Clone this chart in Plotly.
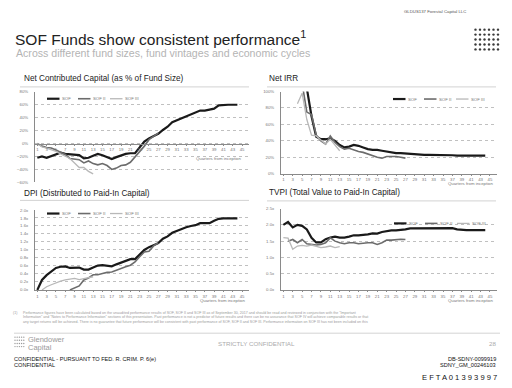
import plotly.graph_objects as go

W, H = 512, 388
FONT = "Arial, Liberation Sans, Helvetica, sans-serif"

# ---------------- data ----------------
quarters = list(range(1, 45))
x_tickvals = list(range(1, 46, 2))
series_names = ["SOF", "SOF II", "SOF III"]

# Net Contributed Capital (% of fund size)
ncc_sof = [-22, -20, -22, -19, -16, -14, -16, -17, -18, -18, -23, -22, -19, -16, -18,
           -21, -24, -21, -18, -16, -15, -15, -6, 3, 8, 11, 15, 21, 26, 33, 36, 40, 43,
           45, 48, 51, 51, 52, 54, 59, 60, 60, 60, 60]
ncc_sof2 = [0, -4, -6, -7, -10, -13, -17, -23, -24, -25, -30, -27, -31, -33, -31, -34,
            -40, -38, -34, -33, -29, -21, -12, -4, 6, 11, 16]
ncc_sof3 = [0, -5, -7, -9, -12, -16, -20, -23, -30, -37, -37, -43, -47]

# Net IRR (%)
irr_sof = [None, None, None, None, None, 104, 70, 45, 42, 42, 43, 40, 35, 32, 33, 35,
           34, 32, 30, 29, 29, 28, 27, 26, 25, 25, 24.5, 24, 24, 23.5, 23, 23, 23, 23,
           23, 23, 22.5, 22, 22, 22, 22, 22, 22, 22]
irr_sof2 = [None, None, None, None, 110, 75, 72, 47, 40, 36, 46, 38, 33, 30, 31, 29,
            27, 26, 24, 22, 20, 19, 21, 21, 21, 20, 19]
irr_sof3 = [None, None, None, 85, 98, 66, 47, 46, 41, 36, 42, 35, 28]

# DPI (x)
dpi_sof = [0.0, 0.25, 0.37, 0.45, 0.55, 0.58, 0.59, 0.55, 0.55, 0.56, 0.51, 0.51, 0.56,
           0.61, 0.62, 0.60, 0.59, 0.64, 0.68, 0.73, 0.77, 0.77, 0.88, 1.00, 1.07, 1.12,
           1.17, 1.28, 1.34, 1.43, 1.48, 1.53, 1.57, 1.60, 1.62, 1.67, 1.67, 1.67, 1.73,
           1.78, 1.79, 1.79, 1.79, 1.79]
dpi_sof2 = [None, None, None, None, None, None, None, 0.0, 0.05, 0.10, 0.25, 0.30, 0.38,
            0.38, 0.41, 0.44, 0.45, 0.50, 0.55, 0.58, 0.62, 0.70, 0.83, 0.95, 0.97, 1.10,
            1.18]
dpi_sof3 = [None, 0.0, 0.08, 0.13, 0.18, 0.22, 0.25, 0.27, 0.29, 0.26, 0.28, 0.31, 0.33]

# TVPI (x)
tvpi_sof = [2.00, 2.09, 1.92, 2.00, 1.97, 1.86, 1.60, 1.46, 1.46, 1.56, 1.61, 1.64, 1.61,
            1.61, 1.64, 1.68, 1.68, 1.69, 1.71, 1.74, 1.73, 1.78, 1.81, 1.83, 1.83, 1.84,
            1.86, 1.89, 1.89, 1.89, 1.89, 1.90, 1.90, 1.90, 1.90, 1.90, 1.90, 1.86, 1.84,
            1.84, 1.84, 1.84, 1.84, 1.84]
tvpi_sof2 = [None, 1.50, 1.55, 1.45, 1.55, 1.42, 1.40, 1.38, 1.40, 1.45, 1.60, 1.50, 1.45,
             1.42, 1.45, 1.45, 1.42, 1.44, 1.45, 1.45, 1.40, 1.45, 1.53, 1.53, 1.55, 1.56,
             1.55]
tvpi_sof3 = [1.61, 1.59, 1.25, 1.35, 1.37, 1.35, 1.38, 1.33, 1.30, 1.32, 1.35, 1.30, 1.33]

# ---------------- styling ----------------
COLORS = ["#1a1a1a", "#6c6c6c", "#b8b8b8"]
WIDTHS = [2.2, 1.6, 1.3]


def pxx(x):
    return x / W


def pyy(y):
    return 1 - y / H


panels = [
    dict(n="", data=[ncc_sof, ncc_sof2, ncc_sof3], xdom=(35, 249), ydom=(91, 182.7),
         yr=[-60, 80], dtick=20, fmt="d", suf="%", zero_y=143.4,
         title="Net Contributed Capital (as % of Fund Size)", tx=22, ty=77, sep=(20, 249, 86),
         leg=(47, 98), qlab=(244, 159)),
    dict(n="2", data=[irr_sof, irr_sof2, irr_sof3], xdom=(281, 497), ydom=(90.7, 174),
         yr=[0, 100], dtick=20, fmt="d", suf="%", zero_y=None,
         title="Net IRR", tx=267, ty=77, sep=(267, 496, 86),
         leg=(393, 98.3), qlab=(496, 184)),
    dict(n="3", data=[dpi_sof, dpi_sof2, dpi_sof3], xdom=(35, 249), ydom=(210.7, 291.7),
         yr=[0, 2.0], dtick=0.2, fmt=".1f", suf="x", zero_y=None,
         title="DPI (Distributed to Paid-In Capital)", tx=22, ty=194, sep=(20, 249, 201),
         leg=(47, 214.3), qlab=(248, 302.5)),
    dict(n="4", data=[tvpi_sof, tvpi_sof2, tvpi_sof3], xdom=(281, 497), ydom=(209.3, 291.7),
         yr=[0, 2.5], dtick=0.5, fmt=".1f", suf="x", zero_y=None,
         title="TVPI (Total Value to Paid-In Capital)", tx=267, ty=193, sep=(267, 496, 201.5),
         leg=(394, 224.3), qlab=(496, 302)),
]

fig = go.Figure()
annotations = []
shapes = []
layout_axes = {}

for p in panels:
    n = p["n"]
    for vals, name, col, w in zip(p["data"], series_names, COLORS, WIDTHS):
        fig.add_trace(go.Scatter(
            x=quarters[:len(vals)], y=vals, mode="lines", name=name,
            line=dict(color=col, width=w), showlegend=False,
            xaxis="x" + n, yaxis="y" + n, connectgaps=False,
        ))
    xa = dict(
        domain=[pxx(p["xdom"][0]), pxx(p["xdom"][1])], range=[0.5, 46.5],
        tickmode="array", tickvals=x_tickvals, showgrid=False, zeroline=False,
        showline=True, linecolor="#8a8a8a", linewidth=0.9,
        ticks="outside", ticklen=1.5, tickcolor="#8a8a8a", tickwidth=0.6,
        tickfont=dict(family=FONT, size=4.3, color="#777"), fixedrange=True,
    )
    if p["zero_y"] is not None:
        xa.update(anchor="free", position=pyy(p["zero_y"]))
    else:
        xa.update(anchor="y" + n)
    ya = dict(
        domain=[pyy(p["ydom"][1]), pyy(p["ydom"][0])], range=p["yr"], dtick=p["dtick"],
        tickformat=p["fmt"], ticksuffix=p["suf"], anchor="x" + n,
        showgrid=True, gridcolor="#c0c0c0", griddash="dot", gridwidth=0.7,
        zeroline=False, showline=True, linecolor="#8a8a8a", linewidth=0.9,
        ticks="", ticklabelstandoff=5,
        tickfont=dict(family=FONT, size=4.3, color="#777"), fixedrange=True,
    )
    layout_axes["xaxis" + n] = xa
    layout_axes["yaxis" + n] = ya

    # panel title and separator
    annotations.append(dict(text=p["title"], x=pxx(p["tx"]), y=pyy(p["ty"]), xref="paper",
                            yref="paper", xanchor="left", yanchor="middle", showarrow=False,
                            font=dict(family=FONT, size=8.2, color="#222")))
    sx0, sx1, sy = p["sep"]
    shapes.append(dict(type="line", xref="paper", yref="paper", x0=pxx(sx0), x1=pxx(sx1),
                       y0=pyy(sy), y1=pyy(sy), line=dict(color="#c8c8c8", width=0.8)))
    # legend (manual, compact like the original)
    lx, ly = p["leg"]
    offsets = [0, 31, 63]
    for off, name, col, w in zip(offsets, series_names, COLORS, WIDTHS):
        shapes.append(dict(type="line", xref="paper", yref="paper",
                           x0=pxx(lx + off), x1=pxx(lx + off + 12.5),
                           y0=pyy(ly), y1=pyy(ly), line=dict(color=col, width=w)))
        annotations.append(dict(text=name, x=pxx(lx + off + 13), y=pyy(ly), xref="paper",
                                yref="paper", xanchor="left", yanchor="middle",
                                showarrow=False,
                                font=dict(family=FONT, size=4.3, color="#777")))
    qx, qy = p["qlab"]
    annotations.append(dict(text="Quarters from inception", x=pxx(qx), y=pyy(qy),
                            xref="paper", yref="paper", xanchor="right", yanchor="middle",
                            showarrow=False, font=dict(family=FONT, size=4.3, color="#777")))


def txt(s, x, y, size, color="#222", anchor="left"):
    annotations.append(dict(text=s, x=pxx(x), y=pyy(y), xref="paper", yref="paper",
                            xanchor=anchor, yanchor="middle", showarrow=False,
                            font=dict(family=FONT, size=size, color=color)))


# page header
txt("GLDUS137 Forestal Capital LLC", 468, 10, 4.3, "#555", "right")
txt("SOF Funds show consistent performance<sup>1</sup>", 13, 36, 15.5, "#222")
txt("Across different fund sizes, fund vintages and economic cycles", 14, 52, 10.6, "#b4b4b4")

# dot-grid logo top right
for r in range(5):
    for c in range(6):
        cx, cy = 475.5 + c * 4.5, 28 + r * 5
        shapes.append(dict(type="circle", xref="paper", yref="paper",
                           x0=pxx(cx - 1.2), x1=pxx(cx + 1.2), y0=pyy(cy + 1.2),
                           y1=pyy(cy - 1.2), fillcolor="#3a3a3a", line=dict(width=0)))

# footnote
foot = [
    ("(1)", 11, 315.3),
    ("Performance figures have been calculated based on the unaudited performance results of SOF, SOF II and SOF III as of September 30, 2017 and should be read and reviewed in conjunction with the \"Important", 21, 315.3),
    ("Information\" and \"Notes to Performance Information\" sections of this presentation. Past performance is not a predictor of future results and there can be no assurance that SOF IV will achieve comparable results or that", 21, 319.5),
    ("any target returns will be achieved. There is no guarantee that future performance will be consistent with past performance of SOF, SOF II and SOF III. Performance information on SOF III has not been included on this", 21, 323.7),
]
for s, x, y in foot:
    txt(s, x, y, 3.6, "#9a9a9a")
shapes.append(dict(type="line", xref="paper", yref="paper", x0=pxx(14), x1=pxx(500),
                   y0=pyy(335.5), y1=pyy(335.5), line=dict(color="#c8c8c8", width=0.8)))

# footer logo
for r in range(4):
    for c in range(5):
        cx, cy = 15 + c * 2.2, 339.5 + r * 3.2
        shapes.append(dict(type="circle", xref="paper", yref="paper",
                           x0=pxx(cx - 0.7), x1=pxx(cx + 0.7), y0=pyy(cy + 0.7),
                           y1=pyy(cy - 0.7), fillcolor="#9a9a9a", line=dict(width=0)))
txt("Glendower", 26, 341.5, 7.5, "#9a9a9a")
txt("Capital", 26, 350.5, 7.5, "#9a9a9a")
txt("STRICTLY CONFIDENTIAL", 256, 345.5, 6.2, "#ababab", "center")
txt("28", 498, 345.5, 6.2, "#ababab", "right")

txt("CONFIDENTIAL - PURSUANT TO FED. R. CRIM. P. 6(e)", 12, 361.5, 5.6, "#111")
txt("CONFIDENTIAL", 12, 367.5, 5.6, "#111")
txt("DB-SDNY-0099919", 498, 361.5, 5.6, "#111", "right")
txt("SDNY_GM_00246103", 498, 367.5, 5.6, "#111", "right")
txt("E F T A 0 1 3 9 3 9 9 7", 499, 380.5, 7.6, "#111", "right")

fig.update_layout(
    width=W, height=H, autosize=False,
    margin=dict(l=0, r=0, t=0, b=0, pad=0),
    paper_bgcolor="white", plot_bgcolor="white",
    showlegend=False,
    annotations=annotations, shapes=shapes,
    font=dict(family=FONT),
    **layout_axes,
)

fig.write_html("out.html", config=dict(displayModeBar=False),
               post_script="document.body.style.margin='0';document.body.style.padding='0';")
